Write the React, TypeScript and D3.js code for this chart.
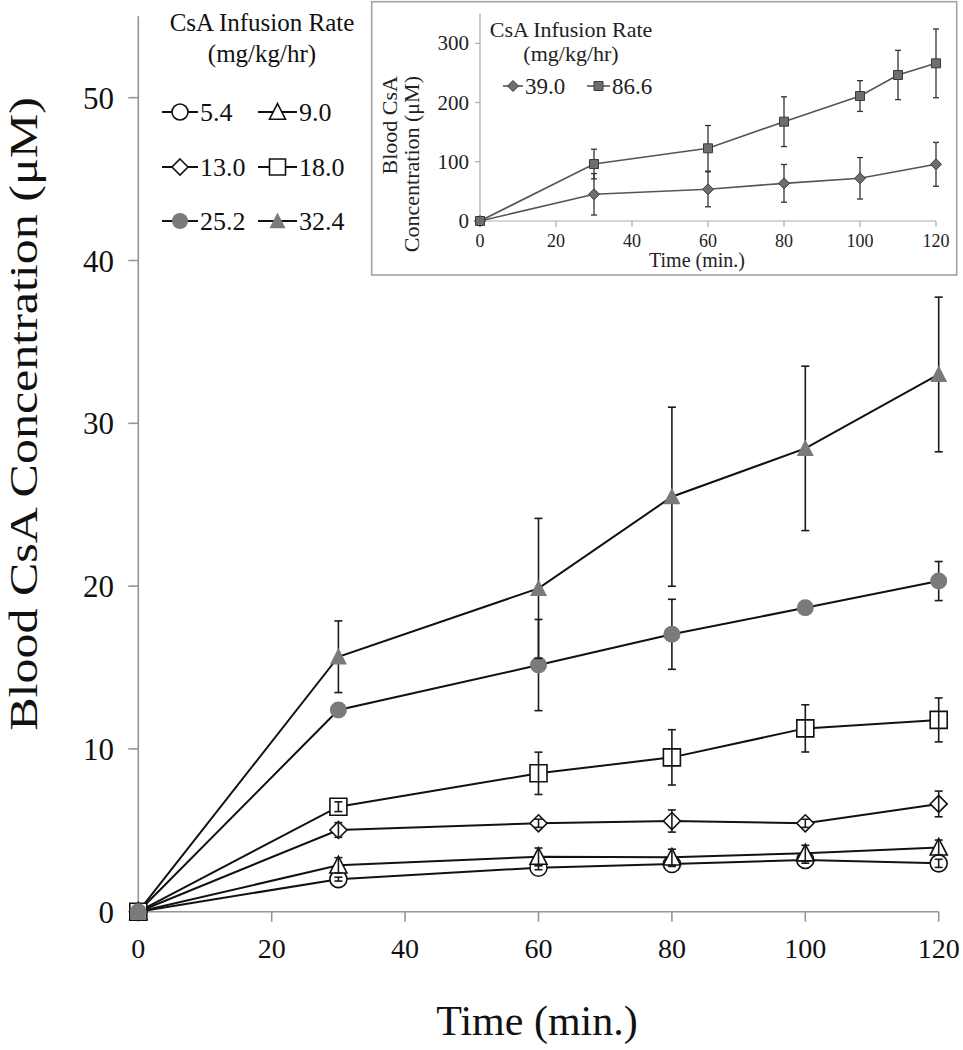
import React from "react";
import * as d3 from "d3";

// ---------- Main chart data ----------
const timePoints = [0, 30, 60, 80, 100, 120];
const xTicks = [0, 20, 40, 60, 80, 100, 120];
const yTicks = [0, 10, 20, 30, 40, 50];
const rateLabels = ["5.4", "9.0", "13.0", "18.0", "25.2", "32.4"];

const conc_5_4 = [0, 2.0, 2.7, 2.93, 3.18, 2.97];
const err_5_4 = [0, 0.12, 0.12, 0.15, 0.2, 0.25];
const conc_9_0 = [0, 2.85, 3.38, 3.34, 3.59, 3.95];
const err_9_0 = [0, 0.47, 0.53, 0.5, 0.49, 0.45];
const conc_13_0 = [0, 5.02, 5.43, 5.57, 5.43, 6.62];
const err_13_0 = [0, 0.45, 0.25, 0.68, 0.25, 0.79];
const conc_18_0 = [0, 6.45, 8.5, 9.48, 11.26, 11.78];
const err_18_0 = [0, 0.3, 1.3, 1.7, 1.45, 1.35];
const conc_25_2 = [0, 12.39, 15.15, 17.04, 18.67, 20.31];
const err_25_2 = [0, 0.4, 2.8, 2.15, 0.4, 1.2];
const conc_32_4 = [0, 15.66, 19.86, 25.49, 28.46, 33.0];
const err_32_4 = [0, 2.2, 4.3, 5.5, 5.05, 4.75];

// ---------- Inset data ----------
const insetXTicks = [0, 20, 40, 60, 80, 100, 120];
const insetYTicks = [0, 100, 200, 300];
const insetRateLabels = ["39.0", "86.6"];
const insetTime_39 = [0, 30, 60, 80, 100, 120];
const insetConc_39 = [0, 45.1, 53.5, 63.6, 72.1, 95.7];
const insetErr_39 = [0, 35, 29.5, 31.8, 35, 37];
const insetTime_86 = [0, 30, 60, 80, 100, 110, 120];
const insetConc_86 = [0, 96.2, 122.7, 167.7, 211, 246.5, 266.2];
const insetErr_86 = [0, 25, 38.5, 42, 26, 41.6, 58];

// ---------- styles (kept apart from data) ----------
const mainSeries = [
  { conc: conc_5_4, err: err_5_4, shape: "circle", filled: false },
  { conc: conc_9_0, err: err_9_0, shape: "triangle", filled: false },
  { conc: conc_13_0, err: err_13_0, shape: "diamond", filled: false },
  { conc: conc_18_0, err: err_18_0, shape: "square", filled: false },
  { conc: conc_25_2, err: err_25_2, shape: "circle", filled: true },
  { conc: conc_32_4, err: err_32_4, shape: "triangle", filled: true },
];
const insetSeries = [
  { t: insetTime_39, conc: insetConc_39, err: insetErr_39, shape: "diamond" },
  { t: insetTime_86, conc: insetConc_86, err: insetErr_86, shape: "square" },
];

const FONT = "'Liberation Serif', 'DejaVu Serif', serif";
const GRAY_FILL = "#7a7a7a";

function markerPath(shape: string, s: number): string {
  const h = s / 2;
  switch (shape) {
    case "circle":
      return `M${-h},0A${h},${h} 0 1,0 ${h},0A${h},${h} 0 1,0 ${-h},0Z`;
    case "square":
      return `M${-h},${-h}H${h}V${h}H${-h}Z`;
    case "diamond":
      return `M0,${-h}L${h},0L0,${h}L${-h},0Z`;
    case "triangle":
      return `M0,${-h * 1.05}L${h},${h * 0.9}L${-h},${h * 0.9}Z`;
    default:
      return "";
  }
}

export default function App() {
  // main scales
  const x = d3.scaleLinear().domain([0, 120]).range([138.3, 938.7]);
  const y = d3.scaleLinear().domain([0, 55]).range([911.7, 16.3]);
  // inset scales
  const xi = d3.scaleLinear().domain([0, 120]).range([480, 936]);
  const yi = d3.scaleLinear().domain([0, 350]).range([221, 13.7]);

  const line = d3
    .line<[number, number]>()
    .x((d) => x(d[0]))
    .y((d) => y(d[1]));
  const lineI = d3
    .line<[number, number]>()
    .x((d) => xi(d[0]))
    .y((d) => yi(d[1]));

  const MS = 17; // main marker size
  const IMS = 10; // inset marker size

  const errBar = (cx: number, y1: number, y2: number, cap: number, key: string, color: string, w: number) => (
    <g key={key} stroke={color} strokeWidth={w}>
      <line x1={cx} x2={cx} y1={y1} y2={y2} />
      <line x1={cx - cap} x2={cx + cap} y1={y1} y2={y1} />
      <line x1={cx - cap} x2={cx + cap} y1={y2} y2={y2} />
    </g>
  );

  const legendRows = [
    [0, 1],
    [2, 3],
    [4, 5],
  ];
  const legendRowY = [112, 167, 221];
  const legendColLine = [
    [162, 198],
    [258, 297],
  ];

  return (
    <svg
      width={963}
      height={1050}
      style={{ position: "absolute", left: 0, top: 0, display: "block", background: "#fff" }}
      fontFamily={FONT}
    >
      <rect x={0} y={0} width={963} height={1050} fill="#fff" />

      {/* ---------- Main axes ---------- */}
      <g stroke="#969696" strokeWidth={1.6}>
        <line x1={x(0)} x2={x(0)} y1={y(55)} y2={y(0)} />
        <line x1={x(0)} x2={x(120)} y1={y(0)} y2={y(0)} />
        {yTicks.map((t) => (
          <line key={"yt" + t} x1={x(0) - 10} x2={x(0)} y1={y(t)} y2={y(t)} />
        ))}
        {xTicks.map((t) => (
          <line key={"xt" + t} x1={x(t)} x2={x(t)} y1={y(0)} y2={y(0) + 10} />
        ))}
      </g>
      <g fontSize={31} fill="#111" textAnchor="end">
        {yTicks.map((t) => (
          <text key={"yl" + t} x={114} y={y(t) + 11}>
            {t}
          </text>
        ))}
      </g>
      <g fontSize={28} fill="#111" textAnchor="middle">
        {xTicks.map((t) => (
          <text key={"xl" + t} x={x(t)} y={958}>
            {t}
          </text>
        ))}
      </g>
      <text x={537} y={1035} fontSize={42} textAnchor="middle" fill="#111">
        Time (min.)
      </text>
      <text
        transform="translate(37,414) rotate(-90) scale(1,0.8)"
        fontSize={50}
        textAnchor="middle"
        fill="#111"
      >
        Blood CsA Concentration (μM)
      </text>

      {/* ---------- Main series lines ---------- */}
      <g fill="none" stroke="#111" strokeWidth={2}>
        {mainSeries.map((s, i) => (
          <path key={"ln" + i} d={line(timePoints.map((t, j) => [t, s.conc[j]]) as [number, number][]) || ""} />
        ))}
      </g>

      {/* ---------- Main markers and error bars ---------- */}
      {mainSeries.map((s, i) => {
        const bars = timePoints.map((t, j) =>
          s.err[j] > 0
            ? errBar(x(t), y(s.conc[j] + s.err[j]), y(s.conc[j] - s.err[j]), 4, `e${i}-${j}`, "#1a1a1a", 1.6)
            : null
        );
        const marks = timePoints.map((t, j) => (
          <path
            key={`m${i}-${j}`}
            d={markerPath(s.shape, MS)}
            transform={`translate(${x(t)},${y(s.conc[j])})`}
            fill={s.filled ? GRAY_FILL : "#fff"}
            stroke={s.filled ? "none" : "#111"}
            strokeWidth={1.6}
          />
        ));
        return (
          <g key={"ser" + i}>
            {s.filled ? (
              <>
                {bars}
                {marks}
              </>
            ) : (
              <>
                {marks}
                {bars}
              </>
            )}
          </g>
        );
      })}

      {/* ---------- Main legend ---------- */}
      <g fill="#111">
        <text x={262} y={31} fontSize={25} textAnchor="middle">
          CsA Infusion Rate
        </text>
        <text x={262} y={62} fontSize={25} textAnchor="middle">
          (mg/kg/hr)
        </text>
        {legendRows.map((row, r) =>
          row.map((si, c) => {
            const s = mainSeries[si];
            const [lx1, lx2] = legendColLine[c];
            const cy = legendRowY[r];
            const cx = (lx1 + lx2) / 2;
            return (
              <g key={`lg${si}`}>
                <line x1={lx1} x2={lx2} y1={cy} y2={cy} stroke="#111" strokeWidth={2} />
                <path
                  d={markerPath(s.shape, 16)}
                  transform={`translate(${cx},${cy})`}
                  fill={s.filled ? GRAY_FILL : "#fff"}
                  stroke={s.filled ? "none" : "#111"}
                  strokeWidth={1.6}
                />
                <text x={lx2 + 2} y={cy + 9} fontSize={26}>
                  {rateLabels[si]}
                </text>
              </g>
            );
          })
        )}
      </g>

      {/* ---------- Inset ---------- */}
      <rect x={371.7} y={1.7} width={585} height={273.3} fill="#fff" stroke="#a3a3a3" strokeWidth={1.6} />
      <g stroke="#ababab" strokeWidth={1.2}>
        <line x1={xi(0)} x2={xi(0)} y1={yi(350)} y2={yi(0)} />
        <line x1={xi(0)} x2={xi(120)} y1={yi(0)} y2={yi(0)} />
        {insetYTicks.map((t) => (
          <line key={"iyt" + t} x1={xi(0) - 5} x2={xi(0)} y1={yi(t)} y2={yi(t)} />
        ))}
        {insetXTicks.map((t) => (
          <line key={"ixt" + t} x1={xi(t)} x2={xi(t)} y1={yi(0)} y2={yi(0) + 6} />
        ))}
      </g>
      <g fontSize={21} fill="#222" textAnchor="end">
        {insetYTicks.map((t) => (
          <text key={"iyl" + t} x={469} y={yi(t) + 7}>
            {t}
          </text>
        ))}
      </g>
      <g fontSize={18} fill="#222" textAnchor="middle">
        {insetXTicks.map((t) => (
          <text key={"ixl" + t} x={xi(t)} y={247}>
            {t}
          </text>
        ))}
      </g>
      <text x={697} y={267} fontSize={20} textAnchor="middle" fill="#222">
        Time (min.)
      </text>
      <text transform="translate(397,76) rotate(-90)" fontSize={22} textAnchor="end" fill="#222">
        Blood CsA
      </text>
      <text transform="translate(419,76) rotate(-90)" fontSize={22} textAnchor="end" fill="#222">
        Concentration (μM)
      </text>

      <g fill="none" stroke="#555" strokeWidth={1.6}>
        {insetSeries.map((s, i) => (
          <path key={"iln" + i} d={lineI(s.t.map((t, j) => [t, s.conc[j]]) as [number, number][]) || ""} />
        ))}
      </g>
      {insetSeries.map((s, i) => (
        <g key={"iser" + i}>
          {s.t.map((t, j) =>
            s.err[j] > 0
              ? errBar(xi(t), yi(s.conc[j] + s.err[j]), yi(s.conc[j] - s.err[j]), 3, `ie${i}-${j}`, "#333", 1.3)
              : null
          )}
          {s.t.map((t, j) => (
            <path
              key={`im${i}-${j}`}
              d={markerPath(s.shape, s.shape === "diamond" ? IMS + 1 : IMS - 1)}
              transform={`translate(${xi(t)},${yi(s.conc[j])})`}
              fill="#6e6e6e"
              stroke="#3a3a3a"
              strokeWidth={1}
            />
          ))}
        </g>
      ))}

      {/* inset legend */}
      <g fill="#222">
        <text x={571} y={37} fontSize={22} textAnchor="middle">
          CsA Infusion Rate
        </text>
        <text x={571} y={61} fontSize={22} textAnchor="middle">
          (mg/kg/hr)
        </text>
        {insetSeries.map((s, i) => {
          const lx1 = i === 0 ? 503 : 587;
          const lx2 = i === 0 ? 523 : 610;
          const cy = 86;
          return (
            <g key={"ilg" + i}>
              <line x1={lx1} x2={lx2} y1={cy} y2={cy} stroke="#555" strokeWidth={1.6} />
              <path
                d={markerPath(s.shape, s.shape === "diamond" ? IMS + 1 : IMS - 1)}
                transform={`translate(${(lx1 + lx2) / 2},${cy})`}
                fill="#6e6e6e"
                stroke="#3a3a3a"
                strokeWidth={1}
              />
              <text x={lx2 + 2} y={cy + 8} fontSize={23}>
                {insetRateLabels[i]}
              </text>
            </g>
          );
        })}
      </g>
    </svg>
  );
}
